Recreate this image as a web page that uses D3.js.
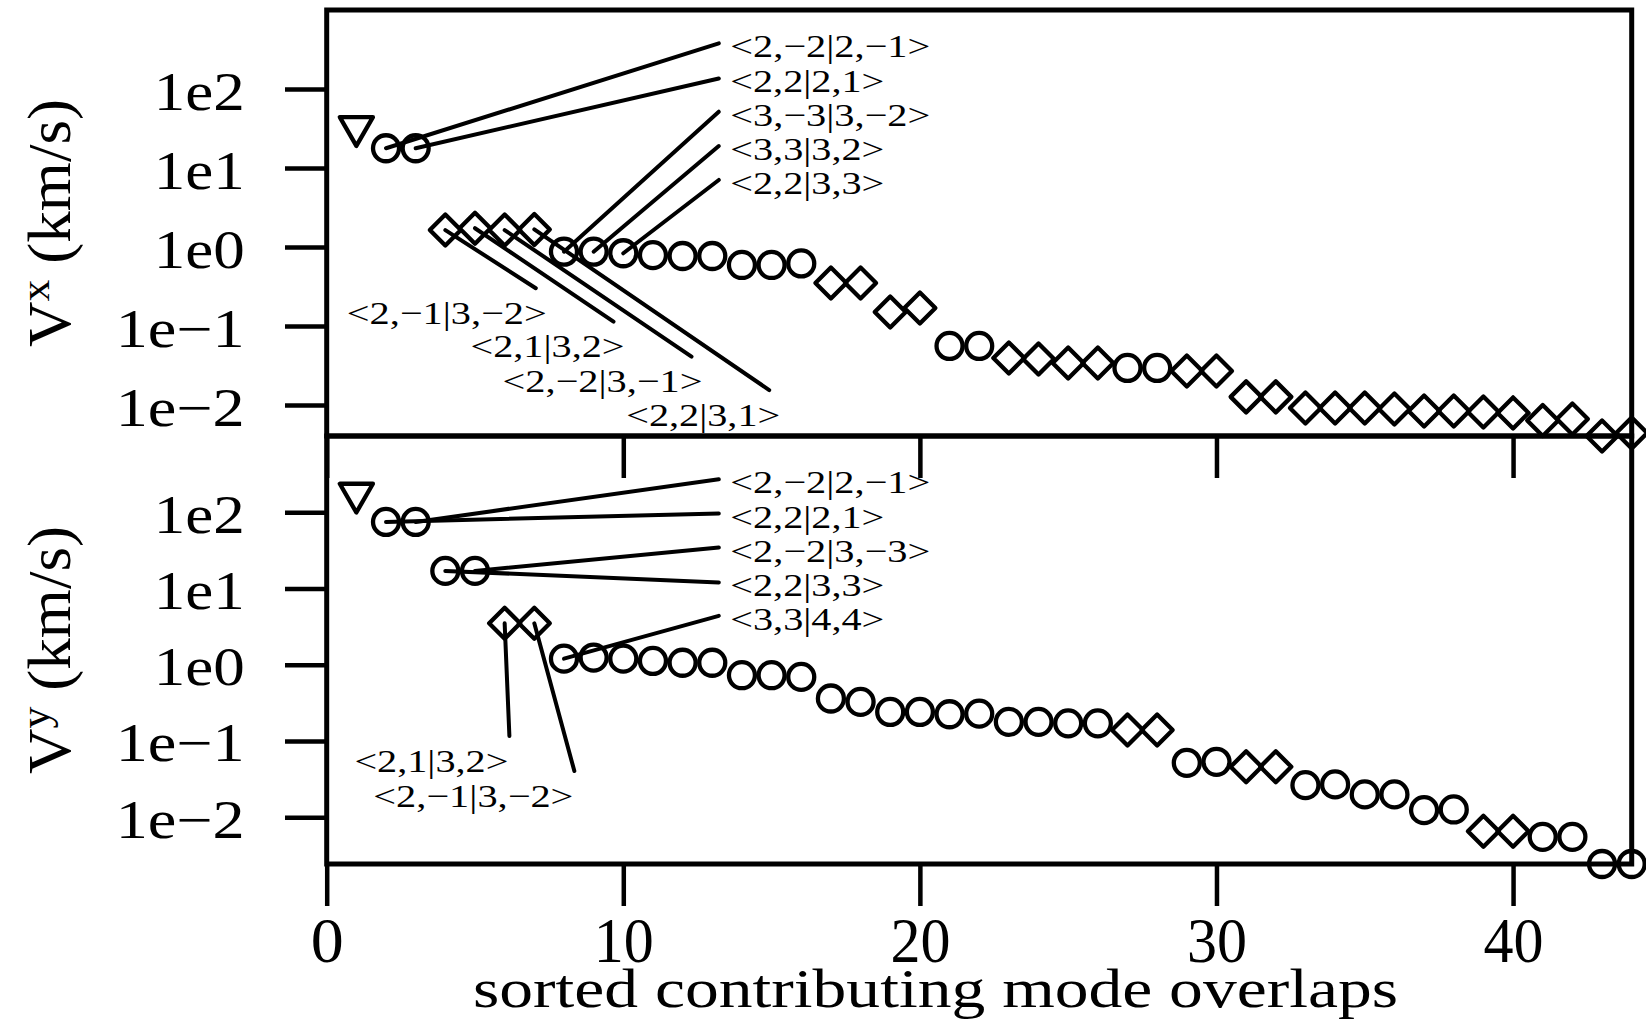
<!DOCTYPE html>
<html>
<head>
<meta charset="utf-8">
<script src="https://cdnjs.cloudflare.com/ajax/libs/d3/7.8.5/d3.min.js"></script>
<style>
body { margin: 0; background: #fff; }
svg { display: block; }
svg text { font-family: "Liberation Serif", "Times New Roman", "Nimbus Roman", FreeSerif, "DejaVu Serif", serif; }
</style>
</head>
<body>
<div id="chart"></div>
<script>
var modeIndex = d3.range(1, 45);

// Vx per sorted overlap, t = triangle, o = circle, d = diamond
var vxValues = [33.3, 17.8, 17.8, 1.64, 1.73, 1.64, 1.67, 0.873, 0.873, 0.834,
    0.79, 0.77, 0.77, 0.593, 0.593, 0.62, 0.351, 0.351, 0.151, 0.169,
    0.056, 0.056, 0.0394, 0.0383, 0.0341, 0.0341, 0.0295, 0.0295, 0.027, 0.027,
    0.0127, 0.0127, 0.0092, 0.0092, 0.0092, 0.00893, 0.00843, 0.00843, 0.00819, 0.00796,
    0.00638, 0.00667, 0.00406, 0.00444];
var vxShapes = "tooddddooooooooodddd" + "ooddddooddddddddddddddddd";
vxShapes = vxShapes.slice(0, 44).split("");

var vyValues = [177, 74.6, 74.6, 17.0, 17.0, 3.49, 3.49, 1.20, 1.24, 1.20,
    1.12, 1.06, 1.06, 0.728, 0.728, 0.692, 0.360, 0.325, 0.240, 0.240,
    0.224, 0.228, 0.178, 0.178, 0.170, 0.170, 0.139, 0.139, 0.0516, 0.0532,
    0.0458, 0.0458, 0.0263, 0.0269, 0.0199, 0.0199, 0.01236, 0.01262, 0.00655, 0.00655,
    0.00552, 0.00552, 0.00243, 0.00243];
var vyShapes = "tooooddoooooooooooooooooooddooddooooooddoooo".split("");

var xTickValues = [0, 10, 20, 30, 40];
var yTickValues = [1e2, 1e1, 1e0, 1e-1, 1e-2];
var yTickLabels = ["1e2", "1e1", "1e0", "1e\u22121", "1e\u22122"];

// [point, leader end x, leader end value, label, side]
var vxNotes = [
    [2, 13.22, 378, "<2,\u22122|2,\u22121>", "right"],
    [3, 13.22, 136, "<2,2|2,1>", "right"],
    [8, 13.22, 51.6, "<3,\u22123|3,\u22122>", "right"],
    [9, 13.22, 19.0, "<3,3|3,2>", "right"],
    [10, 13.22, 7.06, "<2,2|3,3>", "right"],
    [4, 7.05, 0.301, "<2,\u22121|3,\u22122>", "below"],
    [5, 9.67, 0.114, "<2,1|3,2>", "below"],
    [6, 12.30, 0.041, "<2,\u22122|3,\u22121>", "below"],
    [7, 14.92, 0.0155, "<2,2|3,1>", "below"]
];
var vyNotes = [
    [3, 13.22, 271, "<2,\u22122|2,\u22121>", "right"],
    [2, 13.22, 96.2, "<2,2|2,1>", "right"],
    [5, 13.22, 34.4, "<2,\u22122|3,\u22123>", "right"],
    [4, 13.22, 12.0, "<2,2|3,3>", "right"],
    [8, 13.22, 4.37, "<3,3|4,4>", "right"],
    [6, 6.16, 0.116, "<2,1|3,2>", "below"],
    [7, 8.35, 0.0403, "<2,\u22121|3,\u22122>", "below"]
];

var width = 1646, height = 1023;
var plotLeft = 326.7, plotRight = 1631.7;

var svg = d3.select("#chart").append("svg")
    .attr("width", width).attr("height", height);

var x = d3.scaleLinear().domain([0, 44]).range([plotLeft, plotRight]);

function markerPath(shape) {
    var p = d3.path();
    if (shape == "o") {
        p.moveTo(13, 0);
        p.arc(0, 0, 13, 0, 2 * Math.PI);
    } else if (shape == "d") {
        p.moveTo(0, -15.5); p.lineTo(15.5, 0); p.lineTo(0, 15.5); p.lineTo(-15.5, 0); p.closePath();
    } else {
        var s = 12.3;
        p.moveTo(-1.3468 * s, -0.7776 * s); p.lineTo(1.3468 * s, -0.7776 * s); p.lineTo(0, 1.5551 * s); p.closePath();
    }
    return p.toString();
}

function drawPanel(top, bottom, values, shapes, notes, title, sup, belowDx, showXLabels) {
    var y = d3.scaleLog().domain([d3.min(values), 1000]).range([bottom, top]);
    var g = svg.append("g");

    // y ticks
    var yAxis = g.append("g")
        .attr("transform", "translate(" + plotLeft + ",0)")
        .call(d3.axisLeft(y).tickValues(yTickValues).tickSize(41.7)
            .tickFormat(function(d, i) { return yTickLabels[i]; }));
    yAxis.attr("font-family", null).attr("font-size", null);
    yAxis.select(".domain").remove();
    yAxis.selectAll("line").attr("stroke", "#000").attr("stroke-width", 4.5);
    yAxis.selectAll("text")
        .attr("x", -82).attr("dy", null).attr("y", 20)
        .attr("font-size", 54).attr("fill", "#000")
        .attr("textLength", function(d, i) { return yTickLabels[i].length == 3 ? 91 : 129; })
        .attr("lengthAdjust", "spacingAndGlyphs");

    // x ticks below the panel
    var xAxis = g.append("g")
        .attr("transform", "translate(0," + bottom + ")")
        .call(d3.axisBottom(x).tickValues(xTickValues).tickSize(42).tickFormat(d3.format("d")));
    xAxis.attr("font-family", null).attr("font-size", null);
    xAxis.select(".domain").remove();
    xAxis.selectAll("line").attr("stroke", "#000").attr("stroke-width", 4.5);
    if (showXLabels) {
        xAxis.selectAll("text").attr("y", 97.7).attr("dy", null)
            .attr("font-size", 64).attr("fill", "#000")
            .attr("textLength", function(d) { return d == 0 ? 33 : 60; })
            .attr("lengthAdjust", "spacingAndGlyphs");
    } else {
        xAxis.selectAll("text").remove();
    }

    // leader lines
    g.append("g").selectAll("line")
        .data(notes)
        .enter().append("line")
        .attr("x1", function(d) { return x(d[0]); })
        .attr("y1", function(d) { return y(values[d[0] - 1]); })
        .attr("x2", function(d) { return x(d[1]); })
        .attr("y2", function(d) { return y(d[2]); })
        .attr("stroke", "#000").attr("stroke-width", 4).attr("stroke-linecap", "round");

    g.append("g").selectAll("text")
        .data(notes)
        .enter().append("text")
        .attr("x", function(d) { return d[4] == "right" ? x(d[1]) + 11.5 : x(d[1]) + belowDx; })
        .attr("y", function(d) { return d[4] == "right" ? y(d[2]) + 14 : y(d[2]) + 35.5; })
        .attr("text-anchor", function(d) { return d[4] == "right" ? "start" : "end"; })
        .attr("font-size", 32)
        .attr("textLength", function(d) { return d[3].length > 9 ? 200 : 154; })
        .attr("lengthAdjust", "spacingAndGlyphs")
        .text(function(d) { return d[3]; });

    // points
    g.append("g").selectAll("path")
        .data(modeIndex)
        .enter().append("path")
        .attr("transform", function(d) { return "translate(" + x(d) + "," + y(values[d - 1]) + ")"; })
        .attr("d", function(d) { return markerPath(shapes[d - 1]); })
        .attr("fill", "none").attr("stroke", "#000")
        .attr("stroke-width", 4.3).attr("stroke-linejoin", "round");

    // box
    g.append("rect")
        .attr("x", plotLeft).attr("y", top)
        .attr("width", plotRight - plotLeft).attr("height", bottom - top)
        .attr("fill", "none").attr("stroke", "#000").attr("stroke-width", 5);

    // y title, squeezed to the reference length
    var t = g.append("text")
        .attr("text-anchor", "middle")
        .attr("font-size", 62);
    t.append("tspan").text(title);
    t.append("tspan").attr("font-size", 43).attr("dy", -21).text(sup);
    t.append("tspan").attr("dy", 21).text(" (km/s)");
    var k = 248 / t.node().getComputedTextLength();
    t.attr("transform", "translate(70," + (top + bottom) / 2 + ") rotate(-90) scale(" + k + ",1)");
}

drawPanel(10, 436, vxValues, vxShapes, vxNotes, "V", "x", 11, false);
drawPanel(436, 864, vyValues, vyShapes, vyNotes, "V", "y", -1, true);

svg.append("text")
    .attr("x", 473).attr("y", 1006.7)
    .attr("font-size", 54)
    .attr("textLength", 925).attr("lengthAdjust", "spacingAndGlyphs")
    .text("sorted contributing mode overlaps");
</script>
</body>
</html>
